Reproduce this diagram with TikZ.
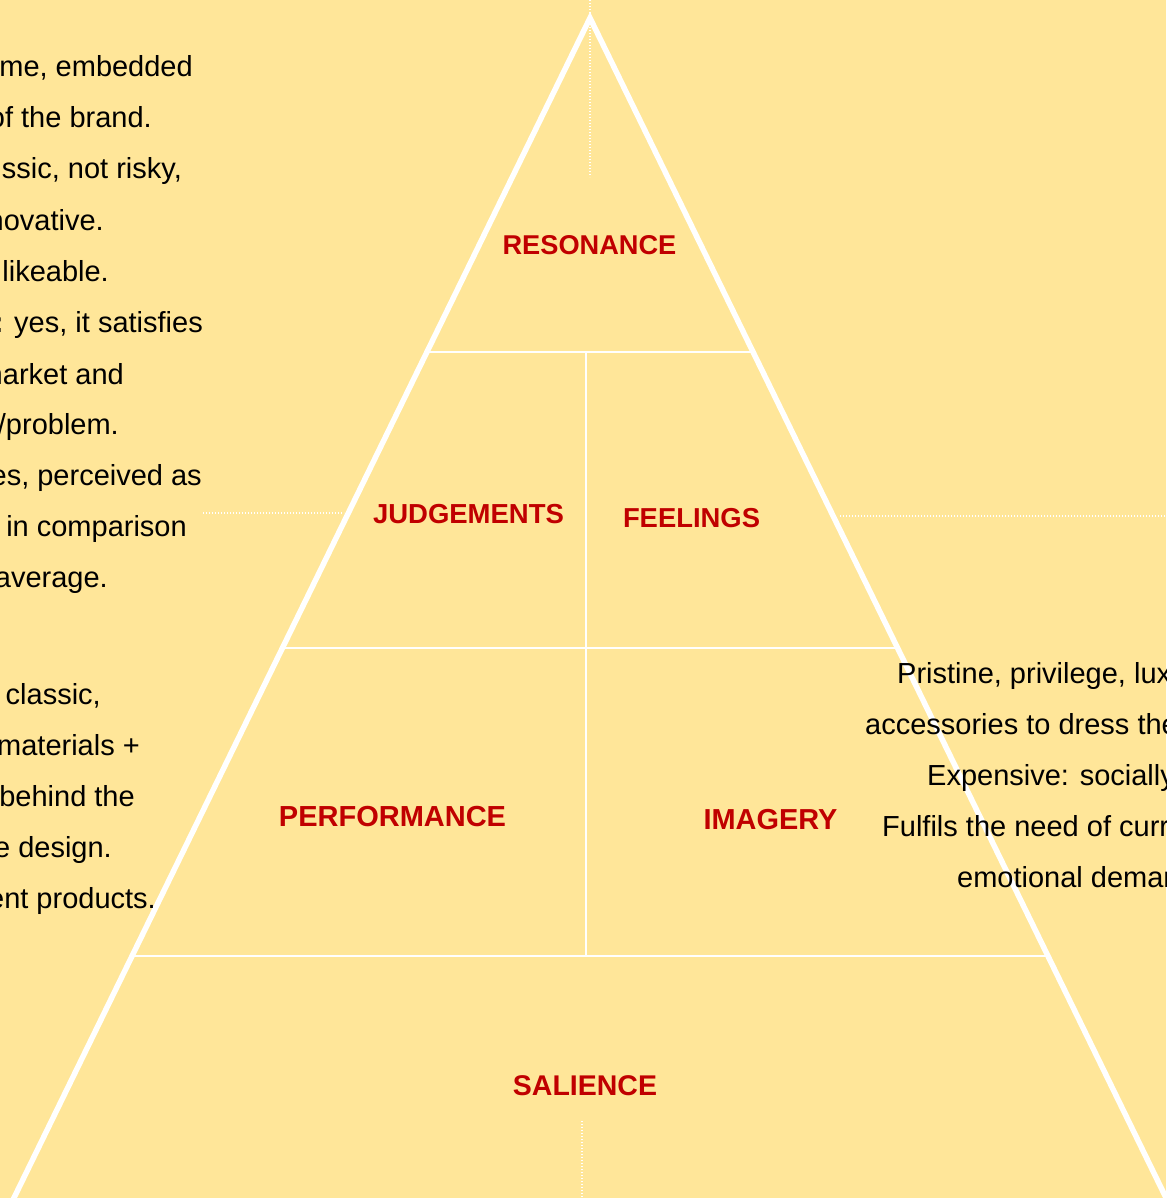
\documentclass[tikz,border=0pt]{standalone}
\usepackage{fontspec}
\setmainfont{Liberation Sans}
\usetikzlibrary{calc}
\definecolor{bg}{HTML}{FFE699}
\definecolor{lab}{HTML}{C00000}
\newcommand{\labsize}[1]{\bfseries\fontsize{#1}{1.2\dimexpr#1pt\relax}\selectfont}
\begin{document}
\begin{tikzpicture}[x=1pt,y=-1pt,
  body/.style={font=\fontsize{29}{35}\selectfont, text=black, inner sep=0pt},
  lbl/.style={font=\labsize{#1}, text=lab, inner sep=0pt},
  lbl/.default=28,
  edge/.style={white, line width=5.5pt, line join=miter},
  divider/.style={white, line width=1.2pt},
  guide/.style={white, line width=1.4pt, dash pattern=on 1.4pt off 1.6pt}]
\useasboundingbox (0,0) rectangle (1166,1198);
\clip (0,0) rectangle (1166,1198);
\fill[bg] (0,0) rectangle (1166,1198);

% dotted guide lines
\coordinate (gt1) at (590,0);    \coordinate (gt2) at (590,177);
\coordinate (gl1) at (203,513);  \coordinate (gl2) at (344,513);
\coordinate (gr1) at (840,516);  \coordinate (gr2) at (1166,516);
\coordinate (gb1) at (582,1121); \coordinate (gb2) at (582,1198);
\draw[guide] (gt1) -- (gt2);
\draw[guide] (gl1) -- (gl2);
\draw[guide] (gr1) -- (gr2);
\draw[guide] (gb1) -- (gb2);

% pyramid outline
\coordinate (A) at (590,18);
\coordinate (L) at (10,1206);
\coordinate (R) at (1170,1206);

% level dividers
\coordinate (l1) at ($(A)!0.28114!(L)$); \coordinate (r1) at ($(A)!0.28114!(R)$);
\coordinate (l2) at ($(A)!0.53030!(L)$); \coordinate (r2) at ($(A)!0.53030!(R)$);
\coordinate (l3) at ($(A)!0.78956!(L)$); \coordinate (r3) at ($(A)!0.78956!(R)$);
\coordinate (vt) at (586,352);
\coordinate (vb) at (586,956);
\draw[divider] (l1) -- (r1);
\draw[divider] (l2) -- (r2);
\draw[divider] (l3) -- (r3);
\draw[divider] (vt) -- (vb);
\draw[edge] (L) -- (A) -- (R);

% level names
\node[lbl=27.2] (resonance)   at (589.5,245) {RESONANCE};
\node[lbl=27.5] (judgements)  at (468.5,514) {JUDGEMENTS};
\node[lbl=27.4] (feelings)    at (691.5,518) {FEELINGS};
\node[lbl=29]   (performance) at (392.5,817) {PERFORMANCE};
\node[lbl=28.9] (imagery)     at (770.5,820) {IMAGERY};
\node[lbl=28.5] (salience)    at (585,1086)  {SALIENCE};

% left notes
\node[body, anchor=base east] (t1)  at (193,77)    {me, embedded};
\node[body, anchor=base east] (t2)  at (152,128)   {of the brand.};
\node[body, anchor=base east] (t3)  at (182,179)   {ssic, not risky,};
\node[body, anchor=base east] (t4)  at (104,230)   {novative.};
\node[body, anchor=base east] (t5)  at (109,281)   {likeable.};
\node[body, anchor=base east] (t6)  at (203,332)   {\textbf{:} yes, it satisfies};
\node[body, anchor=base east] (t7)  at (124,384)   {market and};
\node[body, anchor=base east] (t8)  at (119,434)   {/problem.};
\node[body, anchor=base east] (t9)  at (202,485)   {es, perceived as};
\node[body, anchor=base east] (t10) at (187,536)   {in comparison};
\node[body, anchor=base east] (t11) at (108,587)   {average.};

\node[body, anchor=base east] (u1) at (101,704) {classic,};
\node[body, anchor=base east] (u2) at (140,755) {materials +};
\node[body, anchor=base east] (u3) at (135,806) {behind the};
\node[body, anchor=base east] (u4) at (112,857) {e design.};
\node[body, anchor=base east] (u5) at (156,908) {ent products.};

% right notes
\node[body, anchor=base west] (v1) at (897,683) {Pristine, privilege, luxury};
\node[body, anchor=base west] (v2) at (865,734) {accessories to dress the};
\node[body, anchor=base west] (v3) at (927,785) {Expensive: socially};
\node[body, anchor=base west] (v4) at (882,836) {Fulfils the need of current};
\node[body, anchor=base west] (v5) at (957,887) {emotional demand};
\end{tikzpicture}
\end{document}
